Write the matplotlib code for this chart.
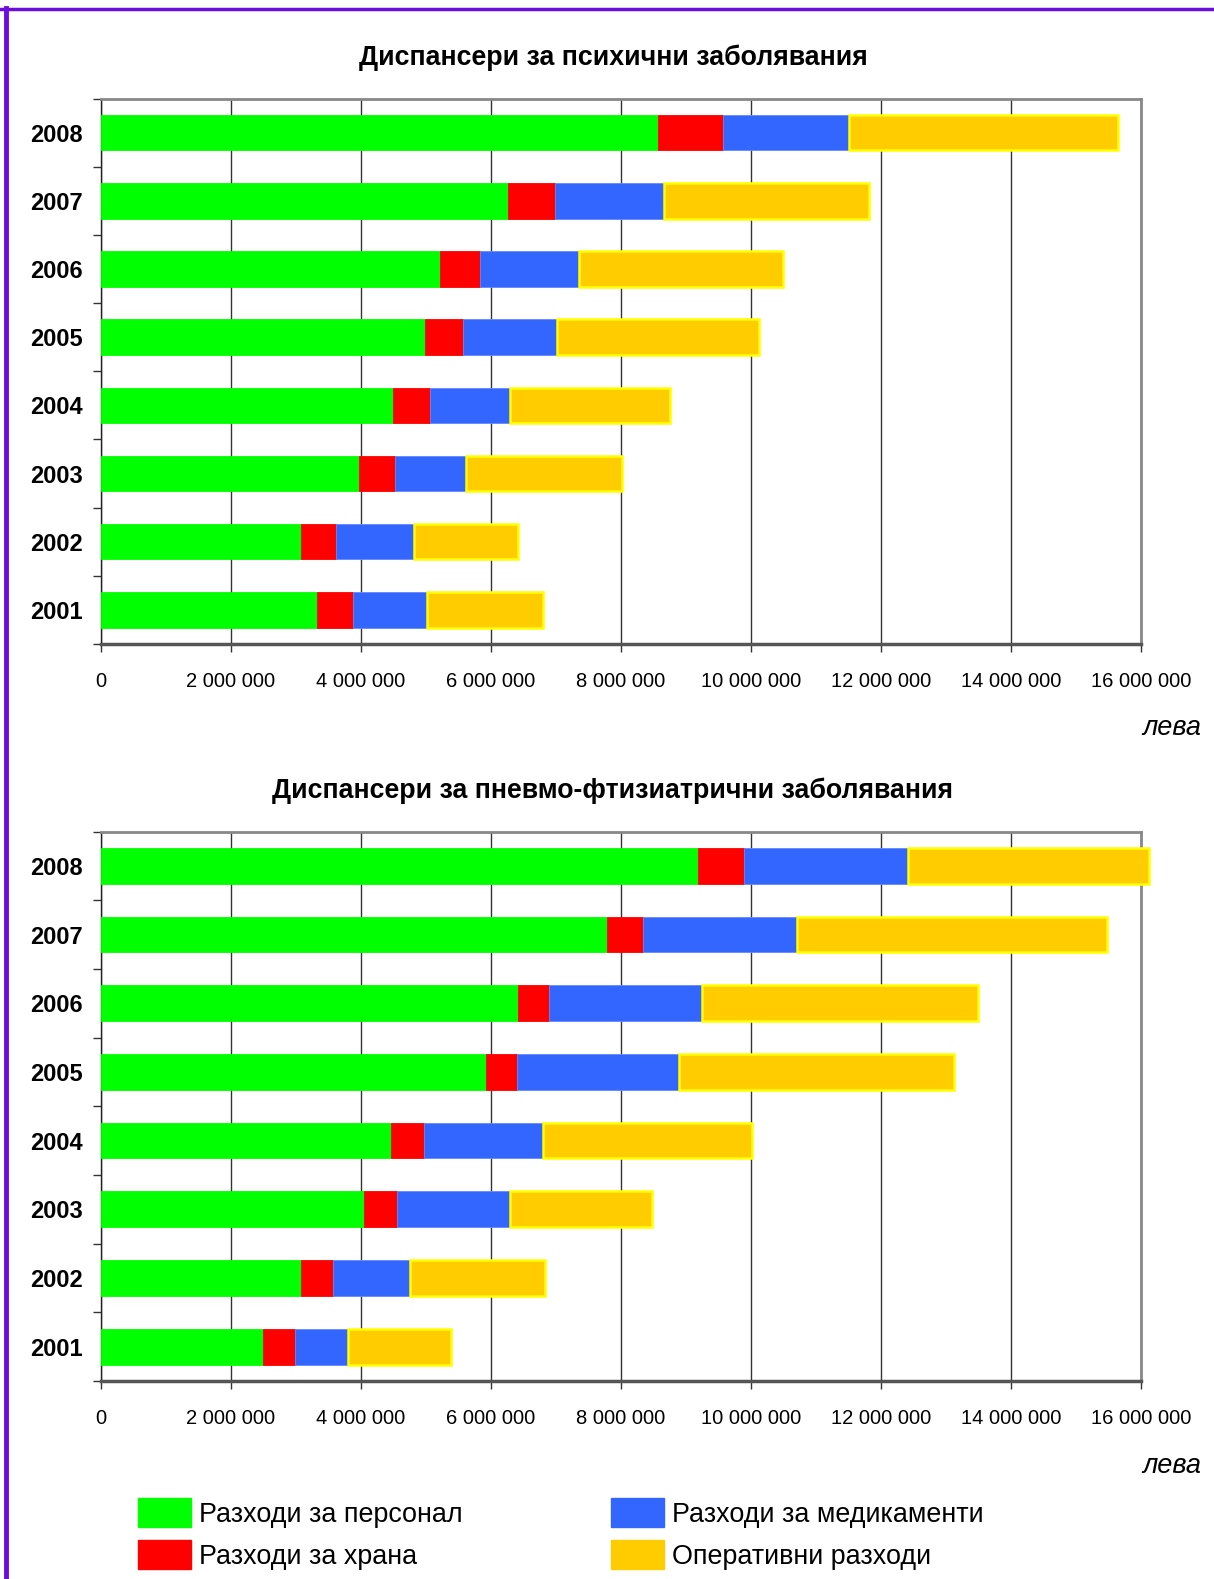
import numpy as np
import matplotlib
matplotlib.use('Agg')
import matplotlib.pyplot as plt
from matplotlib.lines import Line2D
from matplotlib.ticker import FixedLocator, FuncFormatter


years = ['2001', '2002', '2003', '2004', '2005', '2006', '2007', '2008']

# Диспансери за психични заболявания (лева)
psych_staff = [3330000, 3080000, 3970000, 4500000, 4990000, 5210000, 6260000, 8570000]
psych_food = [550000, 540000, 560000, 560000, 580000, 630000, 730000, 1000000]
psych_meds = [1140000, 1200000, 1080000, 1240000, 1450000, 1520000, 1670000, 1930000]
psych_oper = [1780000, 1600000, 2400000, 2450000, 3110000, 3130000, 3160000, 4140000]

# Диспансери за пневмо-фтизиатрични заболявания (лева)
pneumo_staff = [2500000, 3080000, 4050000, 4470000, 5920000, 6420000, 7780000, 9190000]
pneumo_food = [485000, 490000, 500000, 500000, 485000, 480000, 560000, 700000]
pneumo_meds = [815000, 1190000, 1740000, 1830000, 2480000, 2340000, 2360000, 2530000]
pneumo_oper = [1590000, 2070000, 2190000, 3210000, 4230000, 4250000, 4780000, 3700000]

labels = ['Разходи за персонал', 'Разходи за храна',
          'Разходи за медикаменти', 'Оперативни разходи']
colors = ['#00FF00', '#FF0000', '#3366FF', '#FFCC00']
edges = ['#00FF00', '#FF0000', '#6688FF', '#FFFF00']

titles = ['Диспансери за психични заболявания',
          'Диспансери за пневмо-фтизиатрични заболявания']

xticks = [0, 2000000, 4000000, 6000000, 8000000, 10000000, 12000000,
          14000000, 16000000]

plt.rcParams['font.family'] = ['Liberation Sans', 'DejaVu Sans']

W, H = 1214, 1579


def fmt(v, pos):
    return '{:,}'.format(int(v)).replace(',', ' ')


def draw_chart(ax, series):
    y = np.arange(len(years))
    left = np.zeros(len(years))
    for vals, c, e in zip(series, colors, edges):
        ax.barh(y, vals, left=left, height=0.52, color=c, edgecolor=e,
                linewidth=1.8 if e == '#FFFF00' else 0.6, zorder=3,
                clip_on=False)
        left = left + np.array(vals)

    ax.set_xlim(0, 16000000)
    ax.set_ylim(-0.5, len(years) - 0.5)
    ax.xaxis.set_major_locator(FixedLocator(xticks))
    ax.xaxis.set_major_formatter(FuncFormatter(fmt))
    ax.grid(axis='x', color='#333333', linewidth=1.0, zorder=1)
    ax.set_axisbelow(True)

    ax.set_yticks(y)
    ax.set_yticklabels(years, fontsize=17, fontweight='bold')
    ax.yaxis.set_minor_locator(FixedLocator(np.arange(-0.5, len(years), 1.0)))
    ax.tick_params(axis='y', which='major', length=0, pad=13)
    ax.tick_params(axis='y', which='minor', length=5.5, width=1,
                   color='#333333', direction='out')
    ax.tick_params(axis='x', which='major', length=6, width=1,
                   color='#333333', direction='out', pad=14, labelsize=14.5)

    for side in ['top', 'right']:
        ax.spines[side].set_color('#888888')
        ax.spines[side].set_linewidth(2)
    ax.spines['left'].set_color('#222222')
    ax.spines['left'].set_linewidth(1)
    ax.spines['bottom'].set_color('#555555')
    ax.spines['bottom'].set_linewidth(2.5)


fig = plt.figure(figsize=(W / 100, H / 100), dpi=100)

ax1 = fig.add_axes([100.7 / W, 1 - 644 / H, 1040.5 / W, 545.5 / H])
ax2 = fig.add_axes([100.7 / W, 1 - 1381 / H, 1040.5 / W, 549.5 / H])

draw_chart(ax1, [psych_staff, psych_food, psych_meds, psych_oper])
draw_chart(ax2, [pneumo_staff, pneumo_food, pneumo_meds, pneumo_oper])

fig.text(613 / W, 1 - 58 / H, titles[0], ha='center', va='center',
         fontsize=19.3, fontweight='bold')
fig.text(612 / W, 1 - 791 / H, titles[1], ha='center', va='center',
         fontsize=19.3, fontweight='bold')

fig.text(1201 / W, 1 - 728 / H, 'лева', ha='right', va='center',
         fontsize=19.5, style='italic')
fig.text(1201 / W, 1 - 1466 / H, 'лева', ha='right', va='center',
         fontsize=19.5, style='italic')

# legend built by hand: two columns of coloured squares
leg_pos = [(138, 1498), (138, 1540), (611, 1498), (611, 1540)]
for (lx, ly), c, lab in zip(leg_pos, colors, labels):
    fig.patches.append(plt.Rectangle((lx / W, 1 - (ly + 29) / H), 53 / W, 29 / H,
                                     transform=fig.transFigure, color=c,
                                     figure=fig))
    fig.text((lx + 61) / W, 1 - (ly + 17) / H, lab, ha='left', va='center',
             fontsize=19.4)

# purple frame lines (top and left)
purple = '#6A0DDD'
fig.lines.append(Line2D([0, 1], [1 - 8.5 / H, 1 - 8.5 / H], color=purple,
                        linewidth=2.5, transform=fig.transFigure, figure=fig))
fig.lines.append(Line2D([5.5 / W, 5.5 / W], [0, 1 - 7.5 / H], color=purple,
                        linewidth=3.5, transform=fig.transFigure, figure=fig))

fig.savefig('out.png', dpi=100)
